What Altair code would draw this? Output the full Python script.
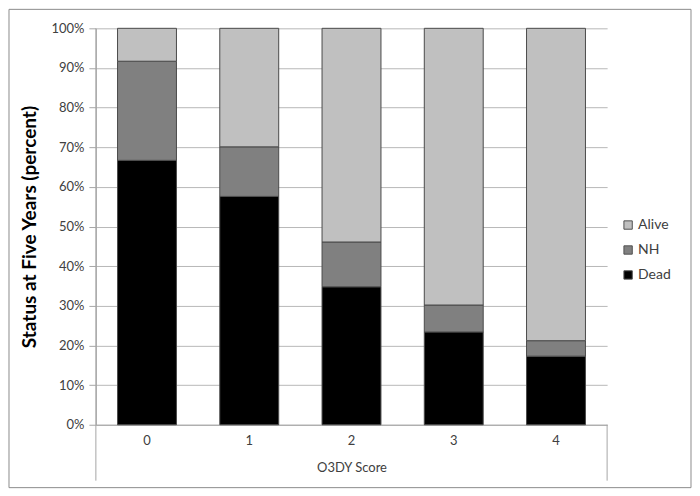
import altair as alt
import pandas as pd

scores = ["0", "1", "2", "3", "4"]
dead = [66.7, 57.6, 34.8, 23.4, 17.3]
nh = [25.0, 12.5, 11.3, 6.8, 3.9]
alive = [8.3, 29.9, 53.9, 69.8, 78.8]
statuses = ["Alive", "NH", "Dead"]
colors = ["#c0c0c0", "#808080", "#000000"]

rows = []
for i, s in enumerate(scores):
    rows.append({"score": s, "status": "Dead", "ord": 0, "val": dead[i] / 100})
    rows.append({"score": s, "status": "NH", "ord": 1, "val": nh[i] / 100})
    rows.append({"score": s, "status": "Alive", "ord": 2, "val": alive[i] / 100})
df = pd.DataFrame(rows)

W, H = 512, 397
FONT = "Lato"

bars = alt.Chart(df).mark_bar(size=59, stroke="#4a4a4a", strokeWidth=1).encode(
    x=alt.X("score:N", sort=scores,
            axis=alt.Axis(title="O3DY Score", labelAngle=0, ticks=False, domain=True,
                          domainColor="#a6a6a6", labelFont=FONT, labelFontSize=13,
                          labelColor="#404040", labelPadding=10,
                          titleFont=FONT, titleFontSize=13, titleFontWeight="normal",
                          titleColor="#404040", titlePadding=14)),
    y=alt.Y("val:Q", stack="zero", scale=alt.Scale(domain=[0, 1], nice=False),
            axis=alt.Axis(title="Status at Five Years (percent)", format=".0%",
                          values=[i / 10 for i in range(11)], grid=True,
                          gridColor="#b8b8b8", domainColor="#a6a6a6",
                          tickColor="#a6a6a6", tickSize=7, labelFont=FONT,
                          labelFontSize=13, labelColor="#404040", labelPadding=5,
                          titleFont=FONT, titleFontSize=19, titleFontWeight="bold",
                          titleColor="#000000", titlePadding=11)),
    color=alt.Color("status:N", scale=alt.Scale(domain=statuses, range=colors),
                    legend=alt.Legend(title=None, orient="none", legendX=526, legendY=190,
                                      symbolType="square", symbolSize=70,
                                      symbolStrokeColor="#505050", symbolStrokeWidth=1,
                                      labelFont=FONT, labelFontSize=14,
                                      labelColor="#404040", rowPadding=11,
                                      labelOffset=3)),
    order=alt.Order("ord:Q", sort="ascending"),
)

one = pd.DataFrame({"a": [0]})
sep_left = alt.Chart(one).mark_rule(color="#a6a6a6").encode(
    x=alt.value(0), y=alt.value(0), y2=alt.value(H + 56))
sep_right = alt.Chart(one).mark_rule(color="#a6a6a6").encode(
    x=alt.value(W), y=alt.value(H), y2=alt.value(H + 56))
border = alt.Chart(one).mark_rect(fillOpacity=0, stroke="#8c8c8c", strokeWidth=1).encode(
    x=alt.value(-87), x2=alt.value(596), y=alt.value(-19), y2=alt.value(460))

chart = alt.layer(border, bars, sep_left, sep_right).properties(
    width=W, height=H, padding=0, background="white"
).configure_view(strokeWidth=0)

chart.save("out.html", embed_options={"renderer": "svg", "actions": False})
